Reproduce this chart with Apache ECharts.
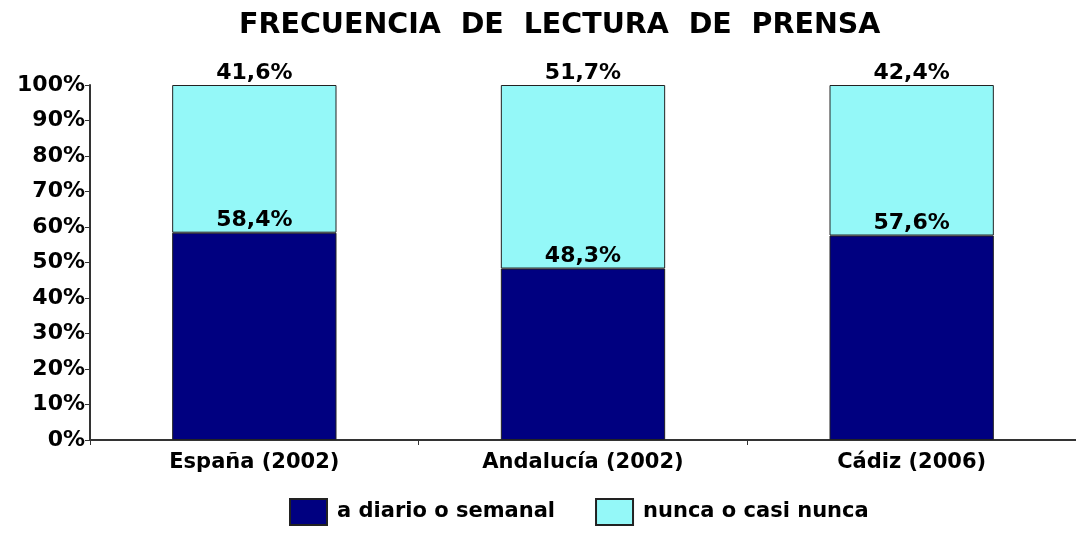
<!DOCTYPE html>
<html>
<head>
<meta charset="utf-8">
<script src="https://cdn.jsdelivr.net/npm/echarts@6/dist/echarts.min.js"></script>
<style>
  html, body { margin: 0; padding: 0; background: #fff; }
  #chart { width: 1076px; height: 533px; }
</style>
</head>
<body>
<div id="chart"></div>
<script>
// categorias y valores (porcentajes)
const categories = ['España (2002)', 'Andalucía (2002)', 'Cádiz (2006)']
const diarioData = [58.4, 48.3, 57.6]
const nuncaData = [41.6, 51.7, 42.4]
const seriesNames = ['a diario o semanal', 'nunca o casi nunca']

const font = 'Verdana, "DejaVu Sans", sans-serif'
const fmt = (v) => v.toFixed(1).replace('.', ',') + '%'

const chart = echarts.init(document.getElementById('chart'))
const option = {
  animation: false,
  title: {
    text: 'FRECUENCIA  DE  LECTURA  DE  PRENSA',
    left: 234,
    top: 6,
    textStyle: { fontFamily: font, fontSize: 28.5, fontWeight: 'bold', color: '#000' }
  },
  legend: {
    bottom: 2,
    left: 284,
    icon: 'rect',
    itemWidth: 37,
    itemHeight: 26,
    itemGap: 40,
    textStyle: {
      fontFamily: font, fontSize: 21, fontWeight: 'bold', color: '#000',
      padding: [0, 0, 0, 5]
    },
    data: seriesNames
  },
  grid: {
    left: 90,
    right: 0,
    top: 85,
    bottom: 93
  },
  xAxis: {
    type: 'category',
    data: categories,
    axisLine: { lineStyle: { color: '#333', width: 2 } },
    axisTick: { show: true, length: 5, lineStyle: { color: '#333' } },
    axisLabel: { fontFamily: font, fontSize: 21, fontWeight: 'bold', color: '#000', margin: 12 }
  },
  yAxis: {
    type: 'value',
    min: 0,
    max: 100,
    interval: 10,
    splitLine: { show: false },
    axisLine: { show: true, lineStyle: { color: '#333', width: 2 } },
    axisTick: { show: true, length: 5, lineStyle: { color: '#333' } },
    axisLabel: {
      fontFamily: font, fontSize: 22, fontWeight: 'bold', color: '#000', margin: 5,
      formatter: '{value}%'
    }
  },
  series: [
    {
      name: seriesNames[0],
      type: 'bar',
      stack: 'total',
      barWidth: '50%',
      itemStyle: { color: '#000080', borderColor: '#222', borderWidth: 1 },
      label: {
        show: true, position: 'top', distance: 1,
        fontFamily: font, fontSize: 22, fontWeight: 'bold', color: '#000',
        formatter: (p) => fmt(p.value)
      },
      data: diarioData
    },
    {
      name: seriesNames[1],
      type: 'bar',
      stack: 'total',
      itemStyle: { color: '#94f8f8', borderColor: '#222', borderWidth: 1 },
      label: {
        show: true, position: 'top', distance: 1,
        fontFamily: font, fontSize: 22, fontWeight: 'bold', color: '#000',
        formatter: (p) => fmt(p.value)
      },
      data: nuncaData
    }
  ]
}
chart.setOption(option)
</script>
</body>
</html>
